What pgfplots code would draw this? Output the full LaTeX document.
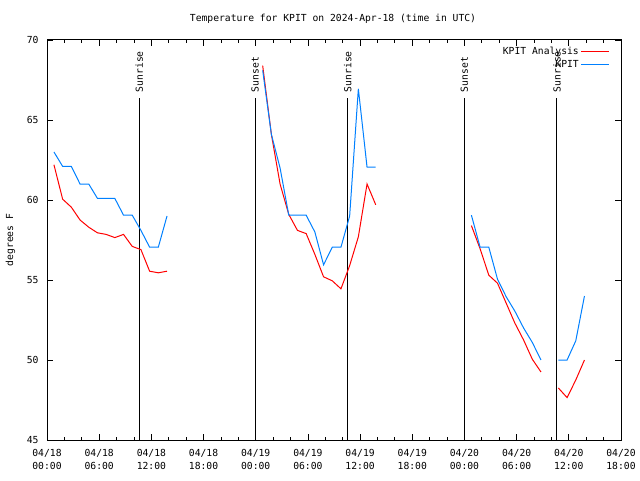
\documentclass[border=0pt]{standalone}
\usepackage{pgfplots}
\pgfplotsset{compat=1.18}
\usepackage{fontspec}
\setmainfont{DejaVu Sans Mono}
\setmonofont{DejaVu Sans Mono}
\definecolor{kred}{RGB}{255,0,0}
\definecolor{kblue}{RGB}{0,128,255}
\newcommand{\gf}{\fontsize{9.7}{13}\selectfont}
\begin{document}
\begin{tikzpicture}[font=\gf]
\path[use as bounding box] (0pt,0pt) rectangle (640pt,480pt);
\begin{axis}[
  at={(47pt,40pt)}, anchor=south west,
  width=574pt, height=400pt, scale only axis,
  xmin=0, xmax=66, ymin=45, ymax=70,
  xtick={0,6,...,66},
  xticklabels={{04/18\\00:00},{04/18\\06:00},{04/18\\12:00},{04/18\\18:00},{04/19\\00:00},{04/19\\06:00},{04/19\\12:00},{04/19\\18:00},{04/20\\00:00},{04/20\\06:00},{04/20\\12:00},{04/20\\18:00}},
  xticklabel style={align=center, font=\gf, yshift=-6pt},
  minor x tick num=2,
  ytick={45,50,...,70},
  yticklabel style={font=\gf, xshift=-5pt, /pgf/number format/assume math mode=true},
  major tick length=6pt, minor tick length=3pt,
  tick style={black, line width=0.8pt},
  axis line style={line width=1pt},
  clip=false,
  legend style={draw=none, fill=none, at={(1,1)}, anchor=north east, xshift=-11pt, yshift=-5pt, inner sep=0pt, cells={anchor=east}, font=\gf, row sep=0.5pt},
  legend plot pos=right,
  legend image code/.code={\draw[#1] (9pt,0pt) -- (37pt,0pt);},
]
% sunrise / sunset lines
\addplot[black, line width=1pt, forget plot] coordinates {(10.61,45) (10.61,66.4)} node[pos=1, rotate=90, anchor=west, inner sep=5pt, font=\gf]{Sunrise};
\addplot[black, line width=1pt, forget plot] coordinates {(23.92,45) (23.92,66.4)} node[pos=1, rotate=90, anchor=west, inner sep=5pt, font=\gf]{Sunset};
\addplot[black, line width=1pt, forget plot] coordinates {(34.57,45) (34.57,66.4)} node[pos=1, rotate=90, anchor=west, inner sep=5pt, font=\gf]{Sunrise};
\addplot[black, line width=1pt, forget plot] coordinates {(47.98,45) (47.98,66.4)} node[pos=1, rotate=90, anchor=west, inner sep=5pt, font=\gf]{Sunset};
\addplot[black, line width=1pt, forget plot] coordinates {(58.64,45) (58.64,66.4)} node[pos=1, rotate=90, anchor=west, inner sep=5pt, font=\gf]{Sunrise};
% KPIT Analysis (red)
\addplot[kred, line width=1pt] coordinates {
(0.8,62.2) (1.8,60.05) (2.8,59.55) (3.8,58.75) (4.8,58.3) (5.8,57.95) (6.8,57.85)
(7.8,57.65) (8.8,57.85) (9.8,57.1) (10.8,56.9) (11.8,55.55) (12.8,55.45) (13.8,55.55)};
\addlegendentry{KPIT Analysis}
% KPIT (blue)
\addplot[kblue, line width=1pt] coordinates {
(0.8,63.0) (1.8,62.1) (2.8,62.1) (3.8,61.0) (4.8,61.0) (5.8,60.1) (6.8,60.1)
(7.8,60.1) (8.8,59.05) (9.8,59.05) (10.8,58.1) (11.8,57.05) (12.8,57.05) (13.8,59.0)};
\addlegendentry{KPIT}
\addplot[kred, line width=1pt, forget plot] coordinates {
(24.8,68.4) (25.8,64.1) (26.8,61.0) (27.8,59.1) (28.8,58.1) (29.8,57.9) (30.8,56.6)
(31.8,55.2) (32.8,54.95) (33.8,54.45) (34.8,55.9) (35.8,57.7) (36.8,61.0) (37.8,59.7)};
\addplot[kblue, line width=1pt, forget plot] coordinates {
(24.8,68.1) (25.8,64.1) (26.8,62.0) (27.8,59.05) (28.8,59.05) (29.8,59.05) (30.8,58.0)
(31.8,55.95) (32.8,57.05) (33.8,57.05) (34.8,59.0) (35.8,66.95) (36.8,62.05) (37.8,62.05)};
\addplot[kred, line width=1pt, forget plot] coordinates {
(48.8,58.4) (49.8,56.95) (50.8,55.3) (51.8,54.8) (52.8,53.55) (53.8,52.3) (54.8,51.25)
(55.8,50.05) (56.8,49.25)};
\addplot[kblue, line width=1pt, forget plot] coordinates {
(48.8,59.05) (49.8,57.05) (50.8,57.05) (51.8,55.05) (52.8,53.95) (53.8,53.05) (54.8,52.0)
(55.8,51.1) (56.8,50.0)};
\addplot[kred, line width=1pt, forget plot] coordinates {
(58.8,48.25) (59.8,47.65) (60.8,48.75) (61.8,50.0)};
\addplot[kblue, line width=1pt, forget plot] coordinates {
(58.8,50.0) (59.8,50.0) (60.8,51.2) (61.8,54.0)};
\end{axis}
\node at (333pt,461pt) {Temperature for KPIT on 2024-Apr-18 (time in UTC)};
\node[rotate=90] at (10.5pt,240pt) {degrees F};
\end{tikzpicture}
\end{document}
